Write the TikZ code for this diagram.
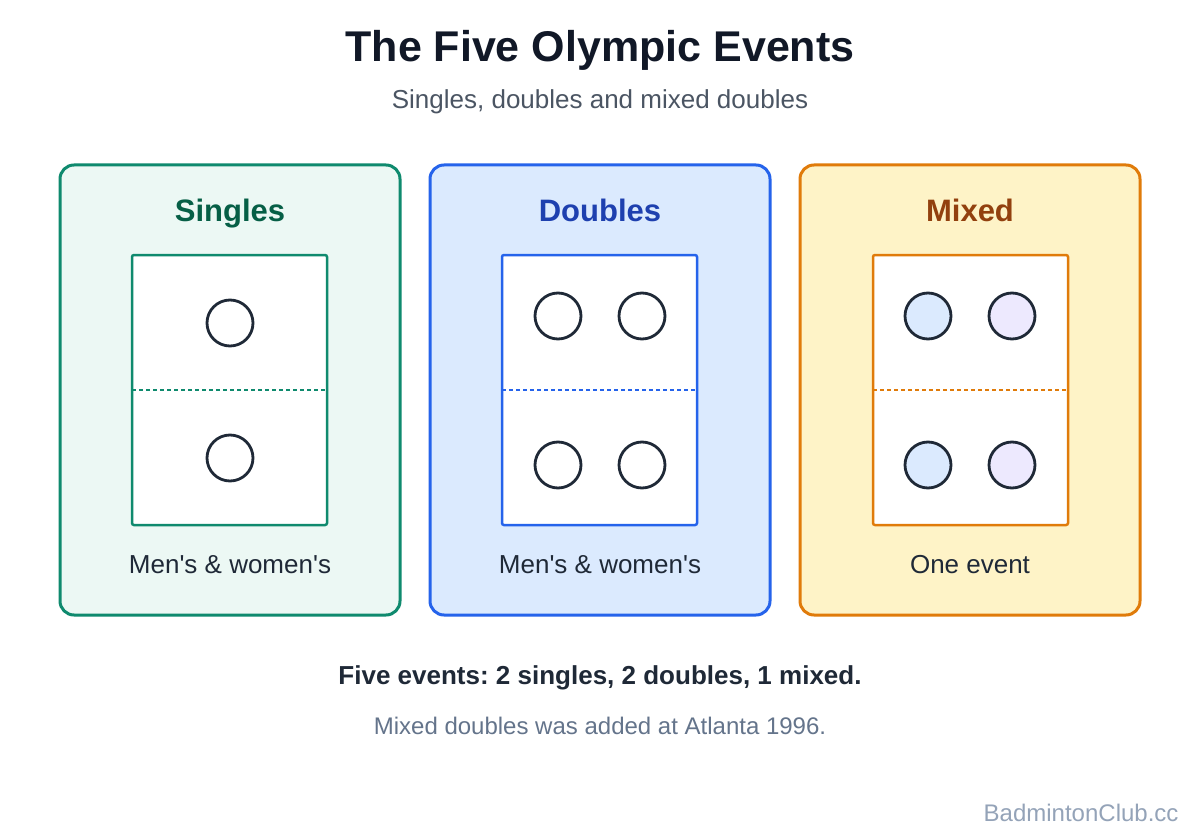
\documentclass[tikz,border=0pt]{standalone}
\usepackage{fontspec}
\setmainfont{Liberation Sans}
\frenchspacing
\definecolor{ink}{HTML}{1F2937}
\definecolor{navy}{HTML}{111827}
\definecolor{slate}{HTML}{4B5563}
\definecolor{mute}{HTML}{64748B}
\definecolor{faint}{HTML}{94A3B8}
\definecolor{sgStroke}{HTML}{0F8A6E}
\definecolor{sgFill}{HTML}{ECF8F4}
\definecolor{sgText}{HTML}{065F46}
\definecolor{dbStroke}{HTML}{2563EB}
\definecolor{dbFill}{HTML}{DBEAFE}
\definecolor{dbText}{HTML}{1E40AF}
\definecolor{mxStroke}{HTML}{E07B0A}
\definecolor{mxFill}{HTML}{FEF3C7}
\definecolor{mxText}{HTML}{92400E}
\definecolor{pBlue}{HTML}{DBEAFE}
\definecolor{pPurple}{HTML}{EDE9FE}
\newcommand{\fsz}[1]{\fontsize{#1}{#1}\selectfont}
\newcommand{\apos}{\textquotesingle}
\begin{document}
\begin{tikzpicture}[x=1pt,y=-1pt,
    panel/.style={line width=3, rounded corners=14},
    court/.style={line width=2.5, fill=white, rounded corners=2},
    net/.style={line width=2, dash pattern=on 4 off 3},
    player/.style={circle, draw=ink, line width=2.8, minimum size=46, inner sep=0},
    heading/.style={font=\fsz{31}\bfseries, anchor=base},
    caption/.style={font=\fsz{26}, text=ink}]
\useasboundingbox[fill=white] (0,0) rectangle (1200,840);

% title block
\node[font=\fsz{43}\bfseries, text=navy] (title) at (600,50) {The Five Olympic Events};
\node[font=\fsz{26}, text=slate] (subtitle) at (600,102) {Singles, doubles and mixed doubles};

% Singles
\draw[panel, draw=sgStroke, fill=sgFill] (60,165) rectangle (400,615);
\node[heading, text=sgText] (sgHead) at (230,222) {Singles};
\draw[court, draw=sgStroke] (132,255) rectangle (327,525);
\draw[net, draw=sgStroke] (132,390) -- (327,390);
\node[player] (sgA) at (230,323) {};
\node[player] (sgB) at (230,458) {};
\node[caption] (sgCap) at (230,565) {Men\apos s \& women\apos s};

% Doubles
\draw[panel, draw=dbStroke, fill=dbFill] (430,165) rectangle (770,615);
\node[heading, text=dbText] (dbHead) at (600,222) {Doubles};
\draw[court, draw=dbStroke] (502,255) rectangle (697,525);
\draw[net, draw=dbStroke] (502,390) -- (697,390);
\foreach \px/\py [count=\i] in {558/316, 642/316, 558/465, 642/465}
  \node[player] (db\i) at (\px,\py) {};
\node[caption] (dbCap) at (600,565) {Men\apos s \& women\apos s};

% Mixed
\draw[panel, draw=mxStroke, fill=mxFill] (800,165) rectangle (1140,615);
\node[heading, text=mxText] (mxHead) at (970,222) {Mixed};
\draw[court, draw=mxStroke] (873,255) rectangle (1068,525);
\draw[net, draw=mxStroke] (873,390) -- (1068,390);
\foreach \px/\py/\pc [count=\i] in {928/316/pBlue, 1012/316/pPurple, 928/465/pBlue, 1012/465/pPurple}
  \node[player, fill=\pc] (mx\i) at (\px,\py) {};
\node[caption] (mxCap) at (970,565) {One event};

% footer
\node[font=\fsz{26}\bfseries, text=ink] (summary) at (600,678) {Five events: 2 singles, 2 doubles, 1 mixed.};
\node[font=\fsz{24}, text=mute] (note) at (600,726) {Mixed doubles was added at Atlanta 1996.};
\node[font=\fsz{24}, text=faint, anchor=east] (mark) at (1182,813) {BadmintonClub.cc};
\end{tikzpicture}
\end{document}
